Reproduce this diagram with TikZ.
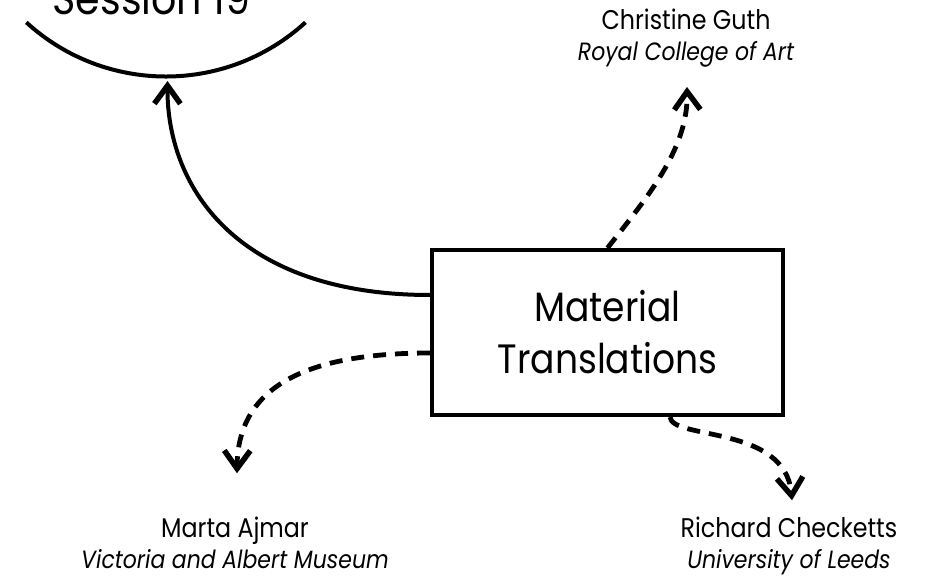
\documentclass[tikz,border=0pt]{standalone}
\usepackage{fontspec}
\setmainfont{Poppins}[FakeStretch=0.88]
\usetikzlibrary{arrows.meta,calc}
\newcommand{\affil}[1]{{\fontsize{25}{31}\selectfont\itshape #1}}
\begin{document}
\begin{tikzpicture}[x=1pt,y=-1pt,
  link/.style={line width=4pt, -{Straight Barb[length=18pt,width=26pt,line width=5.5pt]}},
  dashlink/.style={link, line width=4.8pt, dash pattern=on 13pt off 9pt},
  bigtext/.style={font=\fontsize{41}{52}\selectfont},
  person/.style={font=\fontsize{27}{31}\selectfont, align=center, inner sep=0pt, anchor=base},
]
\useasboundingbox (0,0) rectangle (935,580);

% session circle: only its lower rim shows
\node[circle, minimum size=414pt, inner sep=0pt, outer sep=0pt] (session) at (167.5,-129) {};
\draw[line width=4pt] (session.227.6) arc[start angle=227.6, end angle=312.4, radius=207pt];
\node[font=\fontsize{45}{52}\selectfont, anchor=base, inner sep=0pt] (sessionlabel) at (151.5,15) {Session 19};

% central project box
\node[draw, line width=4pt, minimum width=351pt, minimum height=165pt,
      bigtext, align=center] (box) at (607.5,332.5) {Material\\Translations};

% contributors
\node[person] (guth) at (686,61) {Christine Guth\\\affil{Royal College of Art}};
\node[person] (ajmar) at (235,568) {Marta Ajmar\\\affil{Victoria and Albert Museum}};
\node[person] (checketts) at (789,568) {Richard Checketts\\\affil{University of Leeds}};

% connectors
\draw[link] ($(box.west)+(0,-37.5)$) .. controls (240,295) and (167,190) .. ($(session.south)+(0,3)$);
\draw[dashlink] (box.north) .. controls (645,200) and (688,150) .. ($(guth.south)+(1,19)$);
\draw[dashlink] ($(box.west)+(0,20.5)$) .. controls (300,353) and (238,390) .. ($(ajmar.north)+(2,-43)$);
\draw[dashlink] ($(box.south)+(62.5,0)$) .. controls (672,440) and (785,425) .. ($(checketts.north)+(3,-16)$);
\end{tikzpicture}
\end{document}
